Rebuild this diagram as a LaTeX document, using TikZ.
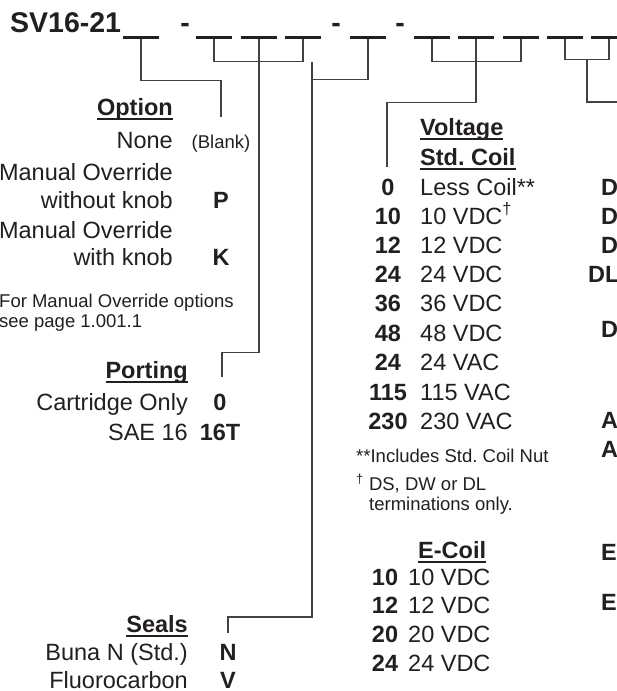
\documentclass[tikz,border=0pt]{standalone}
\usepackage{fontspec}
\setmainfont{Liberation Sans}
\definecolor{ink}{RGB}{35,31,32}
\newsavebox{\hdbox}
\newcommand{\undl}[1]{\sbox\hdbox{#1}\rlap{\vrule height -3pt depth 5pt width \wd\hdbox}\usebox\hdbox}
\frenchspacing

\begin{document}
\begin{tikzpicture}[x=1pt, y=-1pt, every node/.style={inner sep=0pt, text=ink, font=\fontsize{23.5}{28}\selectfont},
    code/.style={font=\fontsize{23.5}{28}\selectfont\bfseries},
    head/.style={font=\fontsize{23.5}{28}\selectfont\bfseries},
    small/.style={font=\fontsize{18.5}{21}\selectfont},
    title/.style={font=\fontsize{28.5}{30}\selectfont\bfseries},
    blank/.style={fill=ink, minimum width=36pt, minimum height=3.2pt},
    conn/.style={draw=ink!85, line width=1.2pt}]
    \fill[white] (0,0) rectangle (617,691);
    \useasboundingbox (0,0) rectangle (617,691);
    % model code
    \node[title, anchor=base west] (title) at (10,32) {SV16-21};
    \foreach \n/\x in {1/141,2/214,3/259,4/303,5/368,6/432,7/476,8/521,9/565,10/609}
        \node[blank] (b\n) at (\x,37.5) {};
    \foreach \n/\x in {1/185,2/336,3/400}
        \node[title, anchor=base] (d\n) at (\x,32) {-};
    % connector ends
    \coordinate (opt) at (221,117);
    \coordinate (port) at (222,377);
    \coordinate (sealtop) at (312,62);
    \coordinate (seal) at (228,633);
    \coordinate (volt) at (387,167);
    \coordinate (term) at (587,59);
    \coordinate (edge) at (625,102);
    \draw[conn] (b1.south) -- ++(0,41) -| (opt);
    \draw[conn] (b2.south) -- ++(0,22) -| (b4.south);
    \draw[conn] (b3.south) -- ++(0,313) -| (port);
    \draw[conn] (b5.south) -- ++(0,40) -| (sealtop);
    \draw[conn] (sealtop) -- ++(0,555) -| (seal);
    \draw[conn] (b6.south) -- ++(0,22) -| (b8.south);
    \draw[conn] (b7.south) -- ++(0,63) -| (volt);
    \draw[conn] (b9.south) -- ++(0,20) -| (b10.south);
    \draw[conn] (term) |- (edge);
    % option
    \node[head, anchor=base east] (opthd) at (173,115) {\undl{Option}};
    \node[anchor=base east] (none) at (173,148) {None};
    \node[small, anchor=base] (blk) at (221,148) {(Blank)};
    \node[anchor=base east] (mo1) at (173,180) {Manual Override};
    \node[anchor=base east] (wo) at (173,208) {without knob};
    \node[code, anchor=base] (p) at (221,208) {P};
    \node[anchor=base east] (mo2) at (173,238) {Manual Override};
    \node[anchor=base east] (wk) at (173,265) {with knob};
    \node[code, anchor=base] (k) at (221,265) {K};
    \node[small, anchor=base west] (note1) at (-1,307) {For Manual Override options};
    \node[small, anchor=base west] (note2) at (-1,327) {see page 1.001.1};
    % porting
    \node[head, anchor=base east] (porthd) at (188,378) {\undl{Porting}};
    \node[anchor=base east] (cart) at (188,410) {Cartridge Only};
    \node[code, anchor=base] (c0) at (220,410) {0};
    \node[anchor=base east] (sae) at (188,440) {SAE 16};
    \node[code, anchor=base] (c16t) at (220,440) {16T};
    % voltage
    \node[head, anchor=base west] (volthd) at (420,135) {\undl{Voltage}};
    \node[head, anchor=base west] (stdhd) at (420,165) {\undl{Std. Coil}};
    \foreach \y/\c/\t [count=\i] in {195/0/{Less Coil**}, 224/10/{10 VDC\textsuperscript{†}}, 253/12/{12 VDC},
        282/24/{24 VDC}, 311/36/{36 VDC}, 341/48/{48 VDC}, 370/24/{24 VAC}, 400/115/{115 VAC}, 429/230/{230 VAC}} {
        \node[code, anchor=base] (vc\i) at (388,\y) {\c};
        \node[anchor=base west] (vt\i) at (420,\y) {\t};
    }
    \node[small, anchor=base west] (fn1) at (356,462) {**Includes Std. Coil Nut};
    \node[small, anchor=base west] (fn2) at (356,490) {\textsuperscript{†} DS, DW or DL};
    \node[small, anchor=base west] (fn3) at (369,510) {terminations only.};
    % e-coil
    \node[head, anchor=base west] (ecoilhd) at (418,558) {\undl{E-Coil}};
    \foreach \y/\c [count=\i] in {585/10, 613/12, 642/20, 671/24} {
        \node[code, anchor=base] (ec\i) at (385,\y) {\c};
        \node[anchor=base west] (et\i) at (408,\y) {\c\ VDC};
    }
    % termination column (cut at the edge)
    \foreach \y/\c [count=\i] in {195/D, 224/D, 253/D, 337/D, 428/A, 457/A, 560/E, 610/E}
        \node[code, anchor=base west] (t\i) at (601,\y) {\c};
    \node[code, anchor=base west] (tdl) at (588,282) {DL};
    % seals
    \node[head, anchor=base east] (sealhd) at (188,632) {\undl{Seals}};
    \node[anchor=base east] (buna) at (188,660) {Buna N (Std.)};
    \node[code, anchor=base] (n) at (228,660) {N};
    \node[anchor=base east] (fluoro) at (188,688) {Fluorocarbon};
    \node[code, anchor=base] (v) at (228,688) {V};
\end{tikzpicture}
\end{document}
